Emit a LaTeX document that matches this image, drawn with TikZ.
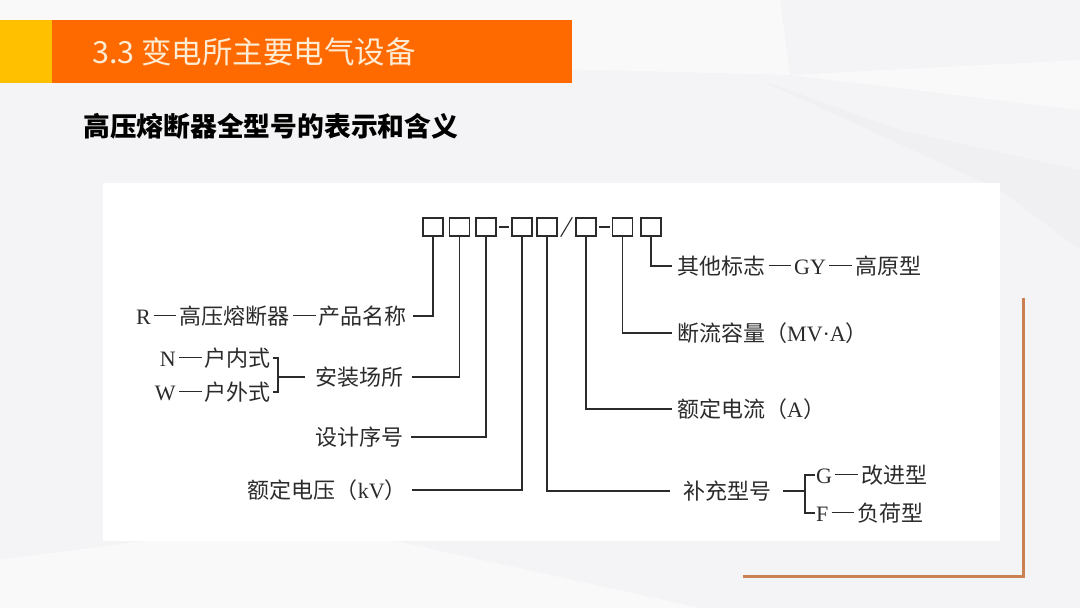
\documentclass[tikz,border=0pt]{standalone}
\usepackage{fontspec}
\setmainfont{Noto Sans CJK SC}
\newfontfamily\cjkfont{Noto Sans CJK SC}
\newfontfamily\latf{Liberation Serif}
\newcommand{\ldash}{\kern0.15em\rule[0.36em]{1.02em}{0.06em}\kern0.15em}
\definecolor{bgc}{HTML}{F4F4F6}
\definecolor{bgl}{HTML}{F9F9FA}
\definecolor{bgd}{HTML}{F0F0F3}
\definecolor{orangeA}{HTML}{FF6A00}
\definecolor{yellowA}{HTML}{FFC000}
\definecolor{titlec}{HTML}{FDEBD3}
\definecolor{lcol}{HTML}{C98152}
\definecolor{ink}{HTML}{2B2B2B}
\tikzset{
  fbox/.style={draw=ink, line width=1.4pt, minimum width=20pt, minimum height=18pt, inner sep=0pt},
  lab/.style={inner sep=0pt, text=ink, font=\fontsize{22}{23}\selectfont},
  conn/.style={draw=ink, line width=1.1pt},
}
\begin{document}
\begin{tikzpicture}[x=1pt,y=-1pt]
\useasboundingbox (0,0) rectangle (1080,608);
% background
\fill[bgc] (0,0) rectangle (1080,608);
\fill[bgl] (0,0) -- (780,0) -- (790,75) -- (600,70) -- (0,60) -- cycle;
\fill[bgl] (790,75) -- (1080,60) -- (1080,110) -- cycle;
\fill[bgd] (760,80) -- (900,130) -- (1080,170) -- (1080,250) -- (1000,190) -- cycle;
\fill[bgl] (0,560) -- (300,520) -- (700,608) -- (0,608) -- cycle;
% banner
\fill[yellowA] (0,20) rectangle (52,83);
\fill[orangeA] (52,20) rectangle (572,83);
\node[anchor=west, inner sep=0pt, text=titlec, font=\fontsize{30.5}{32}\selectfont] (title) at (92,52) {3.3 变电所主要电气设备};
\node[anchor=west, inner sep=0pt, text=black, font=\fontsize{26.8}{28}\selectfont\bfseries] (sub) at (83,126) {高压熔断器全型号的表示和含义};
% white panel
\fill[white] (103,183) rectangle (1000,541);
% orange L
\draw[lcol, line width=3pt] (1023,298) -- (1023,576) -- (743,576);
% boxes
\node[fbox] (b1) at (433,227) {};
\node[fbox] (b2) at (459.5,227) {};
\node[fbox] (b3) at (486,227) {};
\node[fbox] (b4) at (522,227) {};
\node[fbox] (b5) at (547,227) {};
\node[fbox] (b6) at (586,227) {};
\node[fbox] (b7) at (622.5,227) {};
\node[fbox] (b8) at (651,227) {};
\draw[conn] ([xshift=2pt]b3.east) -- ([xshift=-2pt]b4.west);
\draw[conn] ([xshift=3pt]b5.south east) -- ([xshift=-3pt]b6.north west);
\draw[conn] ([xshift=2pt]b6.east) -- ([xshift=-2pt]b7.west);
% left labels
\node[lab, anchor=east] (lR) at (407,316) {{\latf R}\ldash 高压熔断器\ldash 产品名称};
\node[lab, anchor=east] (lAZ) at (404,377) {安装场所};
\node[lab, anchor=east] (lN) at (271,358) {{\latf N}\ldash 户内式};
\node[lab, anchor=east] (lW) at (271,392) {{\latf W}\ldash 户外式};
\node[lab, anchor=east] (lSJ) at (404,437) {设计序号};
\node[lab, anchor=east] (lED) at (407,490) {额定电压（{\latf kV}）};
% right labels
\node[lab, anchor=west] (lQT) at (677,266) {其他标志\ldash{\latf GY}\ldash 高原型};
\node[lab, anchor=west] (lDL) at (677,333) {断流容量（{\latf MV·A}）};
\node[lab, anchor=west] (lEI) at (677,409) {额定电流（{\latf A}）};
\node[lab, anchor=west] (lBC) at (683,491) {补充型号};
\node[lab, anchor=west] (lG) at (816,475) {{\latf G}\ldash 改进型};
\node[lab, anchor=west] (lF) at (816,513) {{\latf F}\ldash 负荷型};
% left bracket
\coordinate (brL) at (278,377);
\draw[conn] ([xshift=2pt]lN.east) -| (brL) |- ([xshift=2pt]lW.east);
\draw[conn] (brL) -- ([xshift=-11pt]lAZ.west);
% right bracket
\coordinate (brR) at (805,491);
\draw[conn] ([xshift=-1pt]lG.west) -| (brR) |- ([xshift=-1pt]lF.west);
\draw[conn] ([xshift=12pt]lBC.east) -- (brR);
% connectors
\draw[conn] (b1.south) |- ([xshift=6pt]lR.east);
\draw[conn] (b2.south) |- ([xshift=8pt]lAZ.east);
\draw[conn] (b3.south) |- ([xshift=7pt]lSJ.east);
\draw[conn] (b4.south) |- ([xshift=5pt]lED.east);
\draw[conn] (b5.south) |- ([xshift=-13pt]lBC.west);
\draw[conn] (b6.south) |- ([xshift=-5pt]lEI.west);
\draw[conn] (b7.south) |- ([xshift=-5pt]lDL.west);
\draw[conn] (b8.south) |- ([xshift=-5pt]lQT.west);
\end{tikzpicture}
\end{document}
